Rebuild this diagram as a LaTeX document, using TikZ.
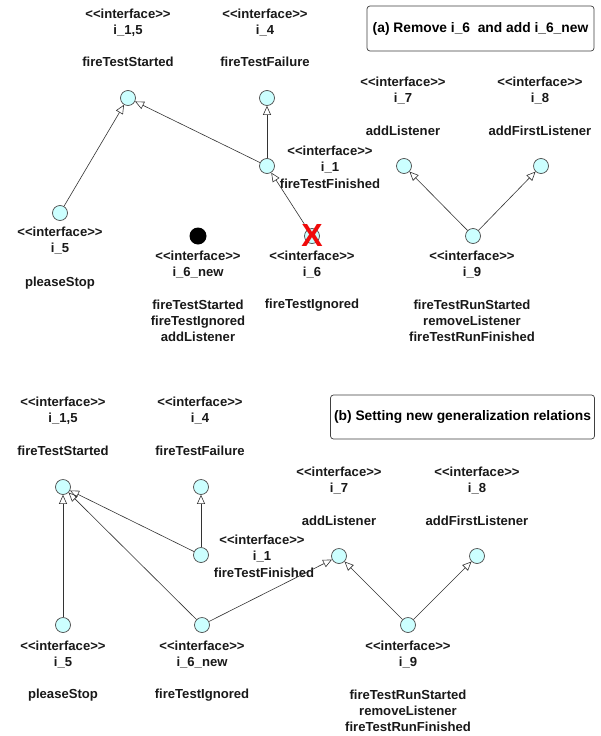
\documentclass[tikz,border=0pt]{standalone}
\usepackage{fontspec}
\setmainfont{Liberation Sans}
\usetikzlibrary{arrows.meta}
\definecolor{ifill}{RGB}{204,255,255}
\definecolor{xred}{RGB}{240,10,10}
\newcommand\stereo{<\kern0pt<interface>\kern0pt>}
\tikzset{
  iface/.style={circle, draw=black!70, fill=ifill, minimum size=15pt, inner sep=0pt, line width=0.7pt},
  dot/.style={circle, fill=black, minimum size=17pt, inner sep=0pt},
  lbl/.style={font=\bfseries\fontsize{13.1}{16}\selectfont, align=center, inner sep=0pt, text=black!90},
  gen/.style={draw=black!80, line width=0.6pt, -{Triangle[open, length=9pt, width=8pt, line width=0.6pt]}},
  titlebox/.style={draw=black!75, line width=0.7pt, rounded corners=3pt, minimum width=227pt, minimum height=45pt, inner sep=0pt, font=\bfseries\fontsize{13.8}{16}\selectfont}
}
\begin{document}
\begin{tikzpicture}[x=1pt,y=-1pt]
\useasboundingbox (0,0) rectangle (600,736);
\fill[white] (0,0) rectangle (600,736);

% ================= panel (a) =================
\node[titlebox] (ta) at (480.5,28.5) {(a) Remove i\_6\ \ and add i\_6\_new};

% i_1,5
\node[lbl] (a15h) at (128,23) {\stereo\\i\_1,5};
\node[lbl] (a15m) at (128,62) {fireTestStarted};
\node[iface] (a15) at (128,98) {};
% i_4
\node[lbl] (a4h) at (265,23) {\stereo\\i\_4};
\node[lbl] (a4m) at (265,62) {fireTestFailure};
\node[iface] (a4) at (267,98) {};
% i_1
\node[iface] (a1) at (267,166) {};
\node[lbl] (a1h) at (330,160) {\stereo\\i\_1};
\node[lbl] (a1m) at (330,184) {fireTestFinished};
% i_7
\node[lbl] (a7h) at (403,91) {\stereo\\i\_7};
\node[lbl] (a7m) at (403,131) {addListener};
\node[iface] (a7) at (404,166) {};
% i_8
\node[lbl] (a8h) at (540,91) {\stereo\\i\_8};
\node[lbl] (a8m) at (540,131) {addFirstListener};
\node[iface] (a8) at (541,166) {};
% i_5
\node[iface] (a5) at (60,213) {};
\node[lbl] (a5h) at (60,241) {\stereo\\i\_5};
\node[lbl] (a5m) at (60,283) {pleaseStop};
% i_6_new (black dot)
\node[dot] (a6n) at (198,236) {};
\node[lbl] (a6nh) at (198,265) {\stereo\\i\_6\_new};
\node[lbl] (a6nm) at (198,321) {fireTestStarted\\fireTestIgnored\\addListener};
% i_6 (removed)
\node[iface] (a6) at (312,236) {};
\node[lbl] (a6h) at (312,265) {\stereo\\i\_6};
\node[lbl] (a6m) at (312,305) {fireTestIgnored};
% i_9
\node[iface] (a9) at (473,236) {};
\node[lbl] (a9h) at (472,265) {\stereo\\i\_9};
\node[lbl] (a9m) at (472,321) {fireTestRunStarted\\removeListener\\fireTestRunFinished};

\draw[gen] (a5) -- (a15);
\draw[gen] (a1) -- (a15);
\draw[gen] (a1) -- (a4);
\draw[gen] (a6) -- (a1);
\draw[gen] (a9) -- (a7);
\draw[gen] (a9) -- (a8);

% red cross on i_6
\node[text=xred, font=\bfseries\fontsize{32}{32}\selectfont, inner sep=0pt] (xmark) at (312,235) {X};

% ================= panel (b) =================
\node[titlebox, minimum width=264pt, minimum height=44pt] (tb) at (462.5,417) {(b) Setting new generalization relations};

% i_1,5
\node[lbl] (b15h) at (63,411) {\stereo\\i\_1,5};
\node[lbl] (b15m) at (63,451) {fireTestStarted};
\node[iface] (b15) at (63,487) {};
% i_4
\node[lbl] (b4h) at (200,411) {\stereo\\i\_4};
\node[lbl] (b4m) at (200,451) {fireTestFailure};
\node[iface] (b4) at (201,487) {};
% i_1
\node[iface] (b1) at (201,555) {};
\node[lbl] (b1h) at (262,549) {\stereo\\i\_1};
\node[lbl] (b1m) at (264,573) {fireTestFinished};
% i_7
\node[lbl] (b7h) at (339,481) {\stereo\\i\_7};
\node[lbl] (b7m) at (339,521) {addListener};
\node[iface] (b7) at (339,556) {};
% i_8
\node[lbl] (b8h) at (477,481) {\stereo\\i\_8};
\node[lbl] (b8m) at (477,521) {addFirstListener};
\node[iface] (b8) at (477,556) {};
% i_5
\node[iface] (b5) at (63,625) {};
\node[lbl] (b5h) at (63,655) {\stereo\\i\_5};
\node[lbl] (b5m) at (63,695) {pleaseStop};
% i_6_new
\node[iface] (b6) at (202,625) {};
\node[lbl] (b6h) at (202,655) {\stereo\\i\_6\_new};
\node[lbl] (b6m) at (202,695) {fireTestIgnored};
% i_9
\node[iface] (b9) at (408,625) {};
\node[lbl] (b9h) at (408,655) {\stereo\\i\_9};
\node[lbl] (b9m) at (408,711) {fireTestRunStarted\\removeListener\\fireTestRunFinished};

\draw[gen] (b5) -- (b15);
\draw[gen] (b6) -- (b15);
\draw[gen] (b1) -- (b15);
\draw[gen] (b1) -- (b4);
\draw[gen] (b6) -- (b7);
\draw[gen] (b9) -- (b7);
\draw[gen] (b9) -- (b8);
\end{tikzpicture}
\end{document}
